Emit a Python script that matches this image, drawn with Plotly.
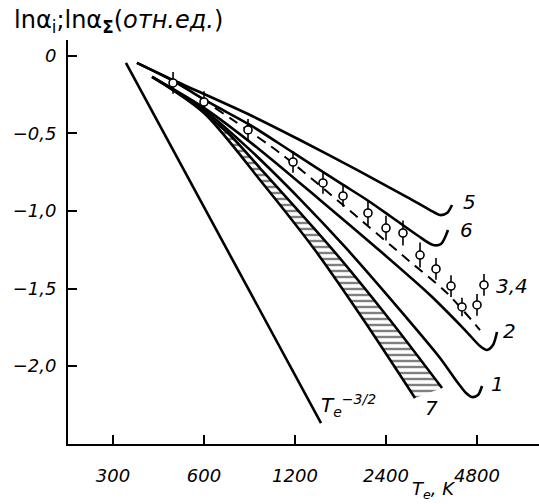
import numpy as np
import plotly.graph_objects as go

# ---- data (T_e in K, ln alpha in relative units) ----
t32_T = [331, 1463]
t32_y = [-0.045, -2.368]

c5_T = [360, 474, 852, 1246, 1924, 2817, 3356, 3621, 3819, 3968]
c5_y = [-0.045, -0.155, -0.381, -0.542, -0.735, -0.910, -0.994, -1.026, -1.013, -0.961]

c6_T = [360, 481, 628, 852, 1173, 1691, 2077, 2474, 3039, 3433, 3649, 3848]
c6_y = [-0.045, -0.168, -0.303, -0.445, -0.619, -0.819, -0.929, -1.032, -1.155, -1.219, -1.213, -1.123]

c2_T = [404, 600, 919, 1452, 2275, 3356, 4381, 4911, 5180, 5421, 5590]
c2_y = [-0.135, -0.335, -0.606, -0.929, -1.252, -1.542, -1.768, -1.871, -1.897, -1.865, -1.781]

c1_T = [404, 600, 852, 1246, 1756, 2670, 3621, 4153, 4415, 4620, 4837, 4987]
c1_y = [-0.135, -0.348, -0.606, -0.923, -1.232, -1.639, -1.948, -2.110, -2.174, -2.200, -2.187, -2.129]

band_lo_T = [404, 600, 919, 1397, 2045, 2993]
band_lo_y = [-0.135, -0.368, -0.800, -1.252, -1.716, -2.206]
band_hi_T = [560, 731, 919, 1603, 2474, 3677]
band_hi_y = [-0.316, -0.510, -0.723, -1.252, -1.703, -2.142]

dash_T = [652, 1070, 1730, 2838, 3819, 4911]
dash_y = [-0.335, -0.626, -0.961, -1.316, -1.529, -1.768]

pts_T = [474, 600, 839, 1182, 1485, 1730, 2092, 2400, 2731, 3110, 3512, 3938, 4281, 4800]
pts_y = [-0.174, -0.297, -0.477, -0.684, -0.819, -0.903, -1.013, -1.110, -1.142, -1.284, -1.374, -1.484, -1.619, -1.606]
pts_err = [0.07, 0.07, 0.07, 0.07, 0.07, 0.07, 0.08, 0.08, 0.08, 0.08, 0.07, 0.07, 0.06, 0.07]

key_T = [5062]
key_y = [-1.477]
key_err = [0.07]

x_ticks = [300, 600, 1200, 2400, 4800]
x_ticktext = ["300", "600", "1200", "2400", "4800"]
y_ticks = [0, -0.5, -1.0, -1.5, -2.0]
y_ticktext = ["0", "−0,5", "−1,0", "−1,5", "−2,0"]

# ---- figure ----
W, H = 539, 504
ML, MR, MT, MB = 68, 0, 40, 60
PW, PH = W - ML - MR, H - MT - MB

def px(xp):
    return (xp - ML) / PW

def py(yp):
    return (H - MB - yp) / PH

LW = 2.6
fig = go.Figure()

# hatched band (curve 7)
fig.add_trace(go.Scatter(
    x=band_lo_T + band_hi_T[::-1], y=band_lo_y + band_hi_y[::-1],
    fill="toself", mode="lines", line=dict(width=0, color="black"),
    fillcolor="white",
    fillpattern=dict(shape="-", fgcolor="black", bgcolor="white", size=6, solidity=0.4),
    hoverinfo="skip", showlegend=False))
for xs, ys in [(band_lo_T, band_lo_y), (band_hi_T, band_hi_y)]:
    fig.add_trace(go.Scatter(x=xs, y=ys, mode="lines",
                             line=dict(color="black", width=LW, shape="spline", smoothing=0.8),
                             showlegend=False))

for xs, ys in [(t32_T, t32_y), (c5_T, c5_y), (c6_T, c6_y), (c2_T, c2_y), (c1_T, c1_y)]:
    fig.add_trace(go.Scatter(x=xs, y=ys, mode="lines",
                             line=dict(color="black", width=LW, shape="spline", smoothing=0.8),
                             showlegend=False))

fig.add_trace(go.Scatter(x=dash_T, y=dash_y, mode="lines",
                         line=dict(color="black", width=2, dash="10px,7px", shape="spline", smoothing=0.8),
                         showlegend=False))

for xs, ys, es in [(pts_T, pts_y, pts_err), (key_T, key_y, key_err)]:
    fig.add_trace(go.Scatter(
        x=xs, y=ys, mode="markers",
        marker=dict(symbol="circle", size=8, color="white", line=dict(color="black", width=1.6)),
        error_y=dict(type="data", array=es, visible=True, width=0, thickness=1.6, color="black"),
        showlegend=False))

tickfont = dict(family="DejaVu Sans", size=18, color="black", style="italic")
fig.update_xaxes(type="log", range=[np.log10(300) - 45 / 302.3, np.log10(300) + 426 / 302.3],
                 showline=True, linecolor="black", linewidth=2, ticks="inside", ticklen=9,
                 tickwidth=1.5, tickcolor="black", tickvals=x_ticks,
                 ticktext=["<i>" + t + "</i>" for t in x_ticktext],
                 tickfont=tickfont, showgrid=False, zeroline=False, ticklabelstandoff=14)
fig.update_yaxes(range=[-2.503, 0.103], showline=True, linecolor="black", linewidth=2,
                 ticks="inside", ticklen=9, tickwidth=1.5, tickcolor="black",
                 tickvals=y_ticks, ticktext=["<i>" + t + "</i>" for t in y_ticktext],
                 tickfont=tickfont, showgrid=False, zeroline=False, ticklabelstandoff=6)

lab = dict(family="DejaVu Sans", size=20, color="black", style="italic")
ann = [
    ("5", 469, 202), ("6", 466, 230), ("3,4", 512, 286), ("2", 509, 331),
    ("1", 497, 384), ("7", 431, 408),
]
for t, xp, yp in ann:
    fig.add_annotation(text="<i>" + t + "</i>", x=px(xp), y=py(yp), xref="paper", yref="paper",
                       showarrow=False, font=lab, xanchor="center", yanchor="middle")
fig.add_annotation(text="<i>T<sub>e</sub><sup>−3/2</sup></i>", x=px(348), y=py(405), xref="paper", yref="paper",
                   showarrow=False, font=lab, xanchor="center", yanchor="middle")
fig.add_annotation(text="<i>T<sub>e</sub>, K</i>", x=px(433), y=py(490), xref="paper", yref="paper",
                   showarrow=False, font=dict(family="DejaVu Sans", size=18, color="black"),
                   xanchor="center", yanchor="middle")
fig.add_annotation(text="lnα<sub>i</sub>;lnα<sub><b>Σ</b></sub>(<i>отн.ед.</i>)", x=px(12), y=py(22),
                   xref="paper", yref="paper", showarrow=False,
                   font=dict(family="DejaVu Sans", size=24, color="black"),
                   xanchor="left", yanchor="middle")

fig.update_layout(width=W, height=H, margin=dict(l=ML, r=MR, t=MT, b=MB),
                  paper_bgcolor="white", plot_bgcolor="white", showlegend=False)
fig.write_html("out.html")
